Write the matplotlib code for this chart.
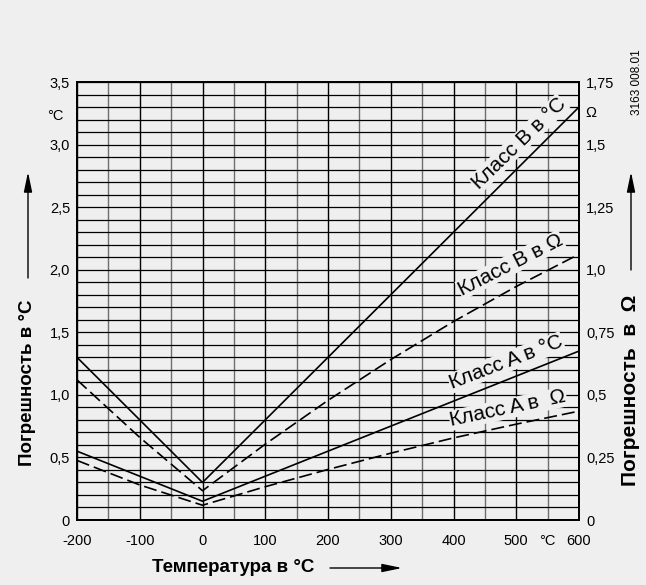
import matplotlib
matplotlib.use("Agg")
import matplotlib.pyplot as plt
from matplotlib.ticker import MultipleLocator, FixedLocator

plt.rcParams['font.family'] = ['Liberation Sans', 'DejaVu Sans']

# Data
temps = [-200, -100, 0, 100, 200, 300, 400, 500, 600]
class_b_degc = [1.3, 0.8, 0.3, 0.8, 1.3, 1.8, 2.3, 2.8, 3.3]
class_a_degc = [0.55, 0.35, 0.15, 0.35, 0.55, 0.75, 0.95, 1.15, 1.35]
class_b_ohm = [0.56, 0.33, 0.117, 0.303, 0.478, 0.641, 0.793, 0.933, 1.062]
class_a_ohm = [0.238, 0.14, 0.059, 0.133, 0.202, 0.267, 0.328, 0.383, 0.435]

x_ticks = [-200, -100, 0, 100, 200, 300, 400, 500, 600]
x_ticklabels = ['-200', '-100', '0', '100', '200', '300', '400', '500', '600']
yl_ticks = [0, 0.5, 1.0, 1.5, 2.0, 2.5, 3.0, 3.5]
yl_ticklabels = ['0', '0,5', '1,0', '1,5', '2,0', '2,5', '3,0', '3,5']
yr_ticks = [0, 0.25, 0.5, 0.75, 1.0, 1.25, 1.5, 1.75]
yr_ticklabels = ['0', '0,25', '0,5', '0,75', '1,0', '1,25', '1,5', '1,75']

bg = '#efefef'
fig = plt.figure(figsize=(6.46, 5.85), dpi=100, facecolor=bg)
ax = fig.add_axes([0.1192, 0.1111, 0.7771, 0.7487])
ax.set_facecolor(bg)
ax.set_xlim(-200, 600)
ax.set_ylim(0, 3.5)

# grid
ax.xaxis.set_major_locator(FixedLocator(x_ticks))
ax.xaxis.set_minor_locator(MultipleLocator(50))
ax.yaxis.set_major_locator(FixedLocator(yl_ticks))
ax.yaxis.set_minor_locator(MultipleLocator(0.1))
ax.grid(which='major', axis='x', color='black', lw=1.0, zorder=0)
ax.grid(which='minor', axis='x', color='#6e6e6e', lw=1.0, zorder=0)
ax.grid(which='both', axis='y', color='black', lw=0.9, zorder=0)
ax.set_axisbelow(True)
ax.set_xticklabels(x_ticklabels)
ax.set_yticklabels(yl_ticklabels)
ax.tick_params(axis='y', which='both', length=0, labelsize=10.5, pad=5)
ax.tick_params(axis='x', which='both', length=0, labelsize=10.5, pad=10)
for s in ax.spines.values():
    s.set_linewidth(1.3)

ax2 = ax.twinx()
ax2.set_ylim(0, 1.75)
ax2.yaxis.set_major_locator(FixedLocator(yr_ticks))
ax2.set_yticklabels(yr_ticklabels)
ax2.tick_params(length=0, labelsize=10.5, pad=5)
for s in ax2.spines.values():
    s.set_linewidth(1.3)

dash = (7.8, 3)
ax.plot(temps, class_b_degc, color='black', lw=1.2, zorder=3)
ax.plot(temps, class_a_degc, color='black', lw=1.2, zorder=3)
ax2.plot(temps, class_b_ohm, color='black', lw=1.2, dashes=dash, zorder=3)
ax2.plot(temps, class_a_ohm, color='black', lw=1.2, dashes=dash, zorder=3)

# in-plot labels
box = dict(facecolor=bg, edgecolor='none', pad=0.5)
lab_kw = dict(fontsize=15, ha='center', va='center', zorder=2.5, bbox=box,
              rotation_mode='anchor')
ax.text(504, 3.01, 'Класс B в °C', rotation=44, **lab_kw)
ax.text(491, 2.04, 'Класс B в Ω', rotation=27, **lab_kw)
ax.text(484, 1.26, 'Класс A в °C', rotation=21, **lab_kw)
ax.text(487, 0.89, 'Класс A в  Ω', rotation=12, **lab_kw)

# unit labels
fig.text(63 / 646, 1 - 116 / 585, '°C', ha='right', va='center', fontsize=10.5)
fig.text(585 / 646, 1 - 113 / 585, 'Ω', ha='left', va='center', fontsize=10.5)
fig.text(547 / 646, 1 - 541 / 585, '°C', ha='center', va='center', fontsize=10.5)

# axis titles
fig.text(28 / 646, 1 - 383 / 585, 'Погрешность в °C', rotation=90, ha='center',
         va='center', fontsize=13.5, fontweight='bold')
fig.text(630 / 646, 1 - 390 / 585, 'Погрешность  в  Ω', rotation=90, ha='center',
         va='center', fontsize=15, fontweight='bold')
fig.text(233 / 646, 1 - 568 / 585, 'Температура в °C', ha='center', va='center',
         fontsize=13.5, fontweight='bold')
fig.text(637 / 646, 1 - 82 / 585, '3163 008.01', rotation=90, ha='center',
         va='center', fontsize=8.5)

arrow_kw = dict(arrowstyle='-|>,head_length=1.2,head_width=0.25', color='black',
                lw=1.0, shrinkA=0, shrinkB=0)
ax_ann = fig.add_axes([0, 0, 1, 1], facecolor='none')
ax_ann.set_axis_off()
ax_ann.set_xlim(0, 646)
ax_ann.set_ylim(585, 0)
ax_ann.annotate('', xy=(28, 172), xytext=(28, 278), arrowprops=arrow_kw)
ax_ann.annotate('', xy=(631, 172), xytext=(631, 270), arrowprops=arrow_kw)
ax_ann.annotate('', xy=(402, 568), xytext=(330, 568), arrowprops=arrow_kw)

fig.savefig('out.png', dpi=100, facecolor=bg)
